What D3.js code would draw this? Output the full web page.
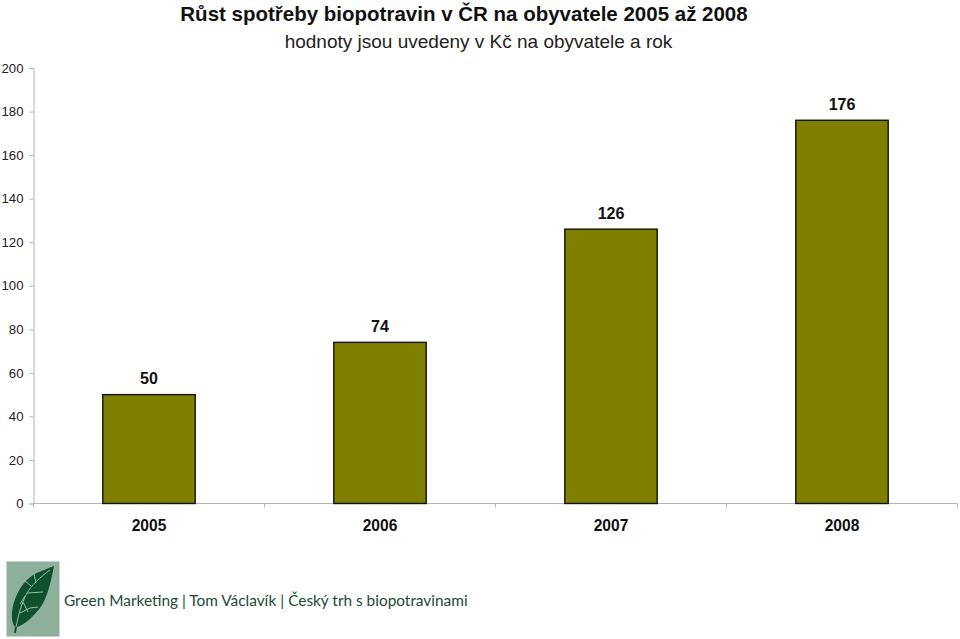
<!DOCTYPE html>
<html><head><meta charset="utf-8">
<script src="https://cdn.jsdelivr.net/npm/d3@7/dist/d3.min.js"></script>
<style>html,body{margin:0;padding:0;background:#fff}svg{display:block}</style>
</head><body><svg id="c" width="960" height="639"></svg>
<script>
const years = ["2005","2006","2007","2008"];
const values = [50,74,126,176];
const yTicks = [0,20,40,60,80,100,120,140,160,180,200];
const titleText = "Růst spotřeby biopotravin v ČR na obyvatele 2005 až 2008";
const subtitleText = "hodnoty jsou uvedeny v Kč na obyvatele a rok";
const footerText = "Green Marketing | Tom Václavík | Český trh s biopotravinami";

const svg = d3.select("#c");
const FF = "'Liberation Sans', Arial, sans-serif";
const L=33.5,R=957.5,T=68,B=503.5;
const x = d3.scaleBand().domain(years).range([L,R]).paddingInner(0.6).paddingOuter(0.3);
const y = d3.scaleLinear().domain([0,200]).range([B,T]);

const axisColor="#b4b4b4";
const gy = svg.append("g").attr("transform",`translate(${L},0)`)
  .call(d3.axisLeft(y).tickValues(yTicks).tickSize(4).tickPadding(6));
gy.selectAll("path,line").attr("stroke",axisColor);
gy.selectAll("text").attr("font-family",FF).attr("font-size",13.2).attr("fill","#222");

const gx = svg.append("g").attr("transform",`translate(0,${B})`)
  .call(d3.axisBottom(x).tickSize(0).tickPadding(16));
gx.select("path").attr("stroke",axisColor).attr("d",`M${L},4V0H${R}V4`);
gx.selectAll("text").attr("font-family",FF).attr("font-size",15.6).attr("font-weight","bold").attr("fill","#111");
const step = x.step();
gx.selectAll(".sep").data(years.slice(1)).join("line").attr("class","sep")
  .attr("x1",d=>x(d)-x.paddingInner()*step/2).attr("x2",d=>x(d)-x.paddingInner()*step/2)
  .attr("y1",0).attr("y2",4).attr("stroke",axisColor);

svg.selectAll(".bar").data(values).join("rect").attr("class","bar")
  .attr("x",(d,i)=>x(years[i])).attr("width",x.bandwidth())
  .attr("y",d=>y(d)).attr("height",d=>y(0)-y(d))
  .attr("fill","#808000").attr("stroke","#111").attr("stroke-width",1.4);

svg.selectAll(".val").data(values).join("text").attr("class","val")
  .attr("x",(d,i)=>x(years[i])+x.bandwidth()/2).attr("y",d=>y(d)-10.5)
  .attr("text-anchor","middle").attr("font-family",FF).attr("font-size",16).attr("font-weight","bold").attr("fill","#111")
  .text(d=>d);

svg.append("text").attr("x",464).attr("y",21).attr("text-anchor","middle")
  .attr("font-family",FF).attr("font-size",20.5).attr("font-weight","bold").attr("fill","#111").text(titleText);
svg.append("text").attr("x",478.5).attr("y",48).attr("text-anchor","middle")
  .attr("font-family",FF).attr("font-size",19).attr("fill","#222").text(subtitleText);

const logo = svg.append("g");
logo.append("rect").attr("x",6.5).attr("y",561.5).attr("width",53).attr("height",75).attr("fill","#8fb09d");
logo.append("path").attr("fill","#10502f")
  .attr("d","M54,566 C47,569 40,571 33,575 C24,581 18,590 14,602 C11,612 11,622 15,627 L14,633 L16,633 L17,627 C24,625 33,617 40,608 C46,600 50,587 54,566 Z");
logo.append("path").attr("fill","none").attr("stroke","#8fc0a0").attr("stroke-width",1)
  .attr("d","M16,627 C18,617 21,604 27,593 C31,586 40,577 50,570 M27,593 L43,592 M20,613 L30,608 L38,607 M25,596 L20,604 M31,586 L24,580 M36,583 L34,574 M23,602 L28,612");

svg.append("text").attr("x",64).attr("y",606).attr("font-family","Lato, 'Open Sans', sans-serif")
  .attr("font-size",15.4).attr("fill","#1c4a38").text(footerText);
</script></body></html>
